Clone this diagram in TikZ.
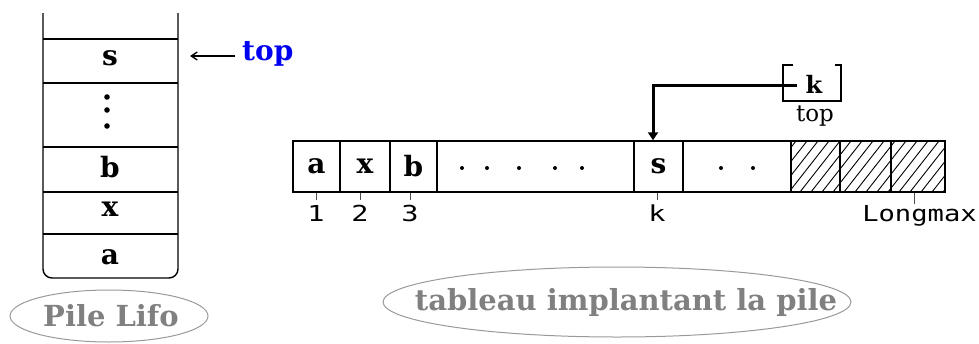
\documentclass[tikz,border=0pt]{standalone}
\usepackage{fontspec}
\setmainfont{DejaVu Serif}
\newfontfamily\labfont{DejaVu Sans Mono}
\usetikzlibrary{arrows.meta,shapes.geometric}
\definecolor{topblue}{RGB}{0,0,240}
\definecolor{capgray}{RGB}{128,128,128}
\tikzset{
  cellbox/.style={draw, line width=1.4pt, minimum height=51pt, inner sep=0pt, font=\bfseries\fontsize{28}{28}\selectfont},
  stacktxt/.style={inner sep=0pt, font=\bfseries\fontsize{28}{28}\selectfont},
  idx/.style={inner sep=0pt, font=\labfont\fontsize{22}{22}\selectfont, xscale=1.3},
  tickline/.style={line width=0.7pt, black!70},
  caption/.style={inner sep=0pt, text=capgray, font=\bfseries\fontsize{29}{29}\selectfont},
  capring/.style={draw=capgray!80, line width=1pt},
}
\begin{document}
\begin{tikzpicture}[x=1pt,y=-1pt]
\useasboundingbox (0,0) rectangle (979,343);
% ---------- stack ----------
\draw[line width=1.4pt, rounded corners=9pt] (43,13) -- (43,278) -- (178,278) -- (178,13);
\foreach \yy in {39,83,147,192,234} \draw[line width=1.4pt] (43,\yy) -- (178,\yy);
\node[stacktxt] (ss) at (110,58) {s};
\fill (107,97) circle (2.8pt) (107,110) circle (2.8pt) (107,126) circle (2.8pt);
\node[stacktxt] (sb) at (110,167) {b};
\node[stacktxt] (sx) at (110,209) {x};
\node[stacktxt] (sa) at (110,257) {a};
\node[inner sep=0pt, text=topblue, font=\bfseries\fontsize{28}{28}\selectfont, anchor=west] (toplab) at (242,54) {top};
\coordinate (stacktop) at (190,56);
\draw[line width=1.4pt, -{Straight Barb[length=6pt,width=8pt]}] (toplab.west |- stacktop) ++(-7,0) -- (stacktop);
\coordinate (pilec) at (109,316);
\draw[capring] (pilec) ellipse (99 and 26);
\node[caption] (pile) at (111,316) {Pile Lifo};
% ---------- array ----------
\node[cellbox, minimum width=47pt] (c1) at (316.5,166.5) {a};
\node[cellbox, minimum width=50pt] (c2) at (365,166.5) {x};
\node[cellbox, minimum width=47pt] (c3) at (413.5,166.5) {b};
\node[cellbox, minimum width=197pt] (c4) at (535.5,166.5) {};
\node[cellbox, minimum width=49pt] (c5) at (658.5,166.5) {s};
\node[cellbox, minimum width=108pt] (c6) at (737,166.5) {};
\begin{scope}
\clip (791,141) rectangle (945,192);
\foreach \xx in {745,756,...,950} \draw[line width=0.9pt] (\xx,192) -- (\xx+40,141);
\end{scope}
\node[cellbox, minimum width=49pt] (c7) at (815.5,166.5) {};
\node[cellbox, minimum width=51pt] (c8) at (865.5,166.5) {};
\node[cellbox, minimum width=54pt] (c9) at (918,166.5) {};
\foreach \xx in {462,487,519,555,582} \fill (\xx,168) circle (2pt);
\foreach \xx in {721,753} \fill (\xx,168) circle (2pt);
% indices
\coordinate (t1) at (316,200);
\coordinate (t2) at (360,200);
\coordinate (t3) at (410,200);
\coordinate (tk) at (657,200);
\coordinate (tl) at (914,204);
\draw[tickline] (c1.south -| t1) -- (t1);
\draw[tickline] (c2.south -| t2) -- (t2);
\draw[tickline] (c3.south -| t3) -- (t3);
\draw[tickline] (c5.south -| tk) -- (tk);
\draw[tickline] (c9.south -| tl) -- (tl);
\node[idx] (i1) at (316,213) {1};
\node[idx] (i2) at (360,213) {2};
\node[idx] (i3) at (410,213) {3};
\node[idx] (ik) at (657,213) {k};
\node[idx, anchor=west, xscale=0.95] (il) at (862,216) {Longmax};
% top register
\draw[line width=1.2pt] (793,65) -- (783,65) -- (783,101) -- (841,101) -- (841,65) -- (835,65);
\node[inner sep=0pt, font=\bfseries\fontsize{24}{24}\selectfont] (kv) at (814,84) {k};
\node[inner sep=0pt, font=\fontsize{23}{23}\selectfont] (kt) at (815,116) {top};
\coordinate (kstart) at (797,85);
\draw[line width=3pt, -{Triangle[length=8pt,width=10pt]}] (kstart) -- (653,85) -- (c5.north -| 653,0);
\coordinate (tabc) at (617,302);
\draw[capring] (tabc) ellipse (234 and 35);
\node[caption] (tab) at (626,302) {tableau implantant la pile};
\end{tikzpicture}
\end{document}
